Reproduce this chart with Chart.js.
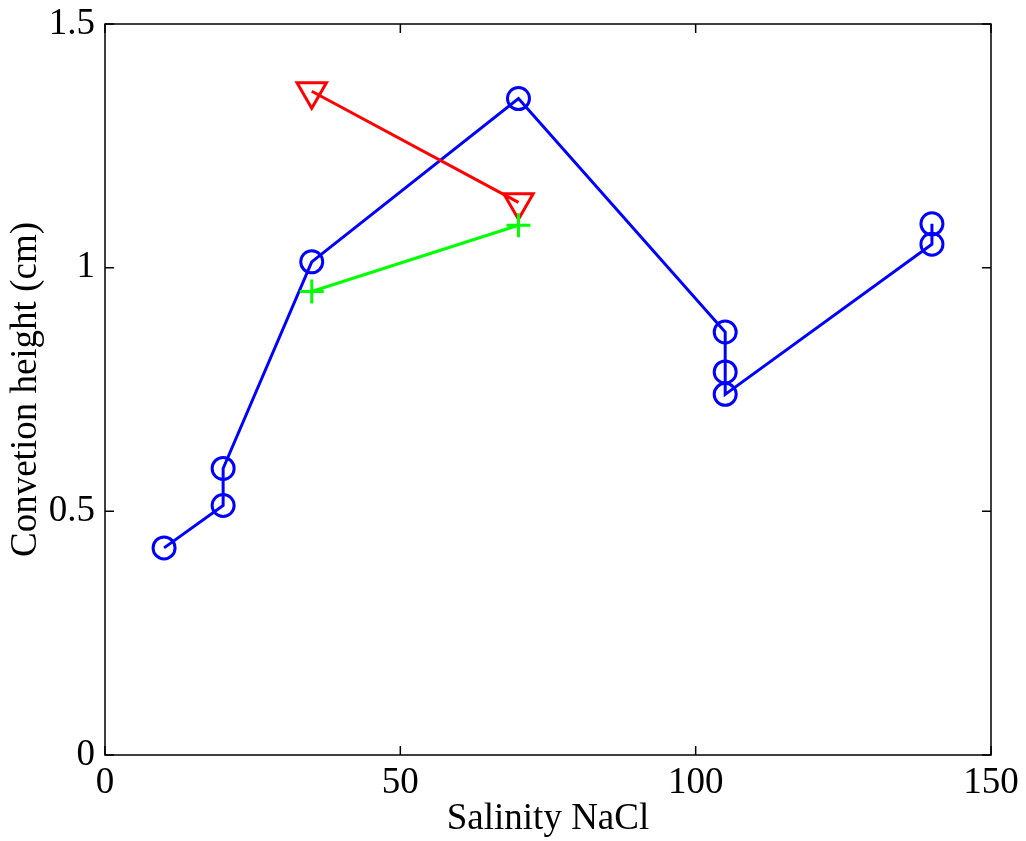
<!DOCTYPE html>
<html>
<head>
<meta charset="utf-8">
<script src="https://cdn.jsdelivr.net/npm/chart.js@4/dist/chart.umd.min.js"></script>
<style>
html,body{margin:0;padding:0;background:#fff;}
#wrap{width:1026px;height:841px;}
</style>
</head>
<body>
<div id="wrap"><canvas id="c" width="1026" height="841"></canvas></div>
<script>
const xTicks = [0, 50, 100, 150];
const yTicks = [0, 0.5, 1, 1.5];
const xTickLabels = ['0', '50', '100', '150'];
const yTickLabels = ['0', '0.5', '1', '1.5'];

const blueX = [10, 20, 20, 35, 70, 105, 105, 105, 140, 140];
const blueY = [0.425, 0.512, 0.588, 1.012, 1.347, 0.868, 0.786, 0.740, 1.048, 1.090];

const redX = [35, 70];
const redY = [1.362, 1.134];

const greenX = [35, 70];
const greenY = [0.951, 1.087];

const xTitle = 'Salinity NaCl';
const yTitle = 'Convetion height (cm)';

function pts(xs, ys){ return xs.map((x,i)=>({x:x, y:ys[i]})); }

const FONT = 'Liberation Serif';
const FS = 37;

const framePlugin = {
  id: 'frame',
  afterDatasetsDraw(chart){
    const ctx = chart.ctx, a = chart.chartArea;
    const xs = chart.scales.x, ys = chart.scales.y;
    ctx.save();
    ctx.strokeStyle = '#000';
    ctx.lineWidth = 1.5;
    ctx.strokeRect(a.left, a.top, a.right - a.left, a.bottom - a.top);
    const L = 9;
    ctx.beginPath();
    xTicks.forEach(v=>{
      const px = xs.getPixelForValue(v);
      ctx.moveTo(px, a.bottom); ctx.lineTo(px, a.bottom - L);
      ctx.moveTo(px, a.top); ctx.lineTo(px, a.top + L);
    });
    yTicks.forEach(v=>{
      const py = ys.getPixelForValue(v);
      ctx.moveTo(a.left, py); ctx.lineTo(a.left + L, py);
      ctx.moveTo(a.right, py); ctx.lineTo(a.right - L, py);
    });
    ctx.stroke();
    ctx.restore();
  }
};

new Chart(document.getElementById('c'), {
  type: 'scatter',
  data: {
    datasets: [
      {
        data: pts(blueX, blueY), showLine: true, order: 3,
        borderColor: '#0000ff', backgroundColor: 'rgba(0,0,0,0)',
        borderWidth: 3, pointStyle: 'circle', pointRadius: 11,
        pointBorderWidth: 3, pointBorderColor: '#0000ff', pointBackgroundColor: 'rgba(0,0,0,0)'
      },
      {
        data: pts(redX, redY), showLine: true, order: 2,
        borderColor: '#ff0000', backgroundColor: 'rgba(0,0,0,0)',
        borderWidth: 3, pointStyle: 'triangle', pointRotation: 180, pointRadius: 17,
        pointBorderWidth: 3, pointBorderColor: '#ff0000', pointBackgroundColor: 'rgba(0,0,0,0)'
      },
      {
        data: pts(greenX, greenY), showLine: true, order: 1,
        borderColor: '#00ff00', backgroundColor: 'rgba(0,0,0,0)',
        borderWidth: 3, pointStyle: 'cross', pointRadius: 12,
        pointBorderWidth: 3, pointBorderColor: '#00ff00', pointBackgroundColor: 'rgba(0,0,0,0)'
      }
    ]
  },
  options: {
    responsive: false,
    animation: false,
    events: [],
    layout: { padding: { top: 24, right: 35, left: 0, bottom: 0 } },
    plugins: { legend: { display: false }, tooltip: { enabled: false } },
    scales: {
      x: {
        type: 'linear', min: 0, max: 150,
        afterFit(s){ s.height = 86; s.paddingLeft = 0; s.paddingRight = 0; },
        afterBuildTicks(s){ s.ticks = xTicks.map(v=>({value:v})); },
        grid: { display: false, drawTicks: false },
        border: { display: false },
        ticks: { color: '#000', font: { family: FONT, size: FS }, padding: 6, maxRotation: 0, autoSkip: false,
                 callback: (v)=>{ const i = xTicks.indexOf(v); return i >= 0 ? xTickLabels[i] : ''; } },
        title: { display: true, text: xTitle, color: '#000', font: { family: FONT, size: FS }, padding: { top: 0, bottom: 0 } }
      },
      y: {
        type: 'linear', min: 0, max: 1.5,
        afterFit(s){ s.width = 105; s.paddingTop = 0; s.paddingBottom = 0; },
        afterBuildTicks(s){ s.ticks = yTicks.map(v=>({value:v})); },
        grid: { display: false, drawTicks: false },
        border: { display: false },
        ticks: { color: '#000', font: { family: FONT, size: FS }, padding: 10, autoSkip: false,
                 callback: (v)=>{ const i = yTicks.indexOf(v); return i >= 0 ? yTickLabels[i] : ''; } },
        title: { display: true, text: yTitle, color: '#000', font: { family: FONT, size: FS }, padding: { top: 4, bottom: 0 } }
      }
    }
  },
  plugins: [framePlugin]
});
</script>
</body>
</html>
